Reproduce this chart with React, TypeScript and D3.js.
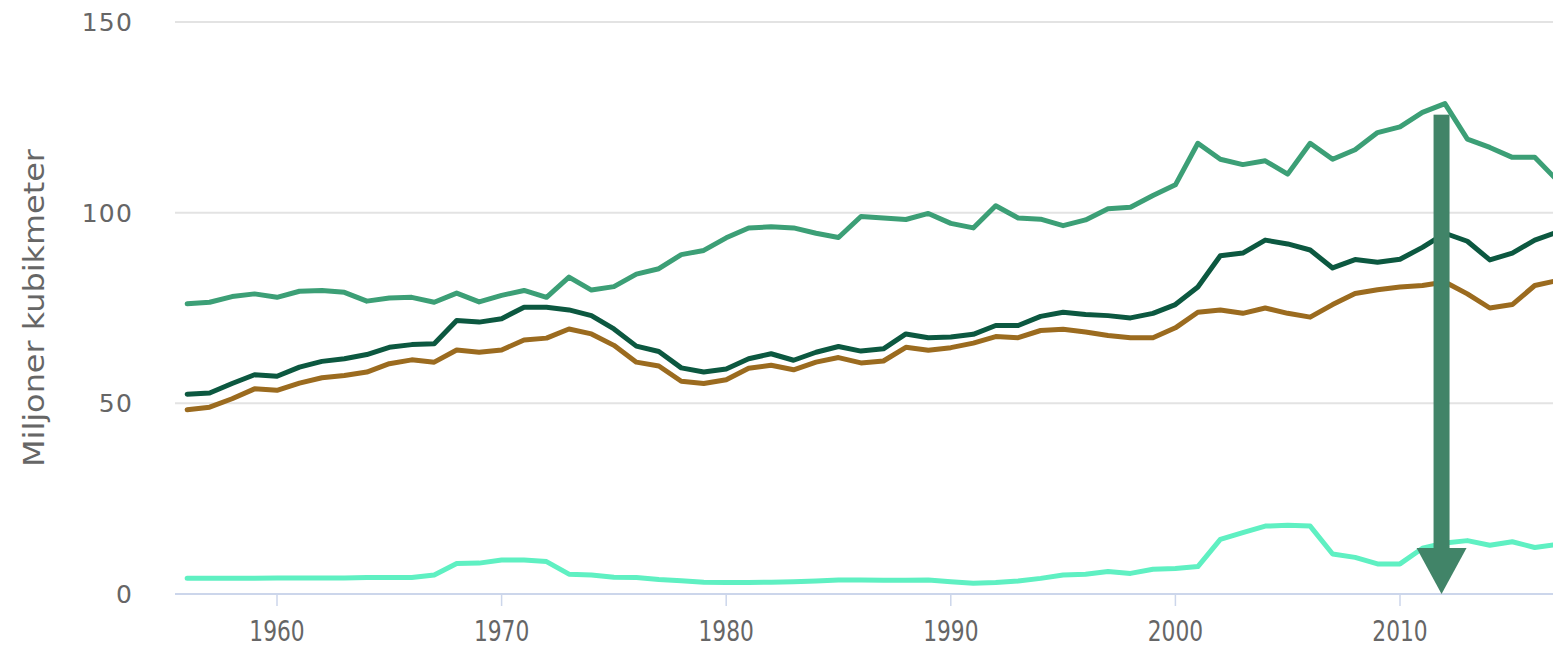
import React from "react";
import * as d3 from "d3";

const years: number[] = d3.range(1956, 2018);

// Miljoner kubikmeter
const tillvaxt: number[] = [
  76.1, 76.5, 78.0, 78.7, 77.8, 79.4, 79.6, 79.1, 76.8, 77.6,
  77.8, 76.5, 78.9, 76.6, 78.3, 79.6, 77.8, 83.1, 79.7, 80.6,
  83.9, 85.3, 89.0, 90.1, 93.4, 96.0, 96.3, 96.0, 94.6, 93.5,
  99.0, 98.6, 98.2, 99.8, 97.2, 96.0, 101.8, 98.6, 98.3, 96.6,
  98.1, 101.0, 101.4, 104.5, 107.3, 118.2, 114.0, 112.6, 113.6, 110.1,
  118.2, 114.0, 116.5, 121.0, 122.5, 126.3, 128.6, 119.3, 117.1, 114.5,
  114.5, 108.5,
];

const bruttoavverkning: number[] = [
  52.4, 52.7, 55.2, 57.5, 57.1, 59.5, 61.0, 61.7, 62.8, 64.7,
  65.4, 65.6, 71.7, 71.3, 72.2, 75.2, 75.2, 74.5, 73.0, 69.5,
  65.0, 63.6, 59.3, 58.2, 59.0, 61.7, 63.0, 61.3, 63.4, 64.9,
  63.7, 64.3, 68.2, 67.2, 67.4, 68.1, 70.4, 70.4, 72.8, 73.9,
  73.3, 73.0, 72.4, 73.6, 75.9, 80.5, 88.7, 89.4, 92.8, 91.8,
  90.2, 85.5, 87.7, 87.0, 87.8, 90.9, 94.6, 92.5, 87.6, 89.4,
  92.8, 94.9,
];

const nettoavverkning: number[] = [
  48.3, 49.0, 51.2, 53.8, 53.4, 55.3, 56.7, 57.3, 58.2, 60.4,
  61.4, 60.8, 64.0, 63.4, 64.0, 66.6, 67.1, 69.5, 68.2, 65.2,
  60.8, 59.8, 55.8, 55.2, 56.2, 59.2, 60.0, 58.8, 60.8, 62.0,
  60.6, 61.1, 64.7, 63.9, 64.6, 65.8, 67.5, 67.2, 69.1, 69.4,
  68.7, 67.8, 67.2, 67.2, 69.8, 73.9, 74.5, 73.6, 75.0, 73.6,
  72.6, 75.9, 78.8, 79.8, 80.5, 80.9, 81.8, 78.7, 75.0, 75.9,
  80.9, 82.2,
];

const avgang: number[] = [
  4.1, 4.1, 4.1, 4.1, 4.2, 4.2, 4.2, 4.2, 4.3, 4.3,
  4.3, 5.0, 8.0, 8.1, 8.9, 8.9, 8.5, 5.2, 5.0, 4.4,
  4.3, 3.8, 3.5, 3.1, 3.0, 3.0, 3.1, 3.2, 3.4, 3.7,
  3.7, 3.6, 3.6, 3.7, 3.2, 2.8, 3.0, 3.4, 4.1, 5.0,
  5.2, 5.9, 5.4, 6.5, 6.7, 7.2, 14.3, 16.1, 17.8, 18.0,
  17.8, 10.5, 9.6, 7.9, 7.9, 12.0, 13.4, 14.0, 12.8, 13.7,
  12.2, 13.0,
];

const yTicks: number[] = [0, 50, 100, 150];
const xTicks: number[] = [1960, 1970, 1980, 1990, 2000, 2010];
const yTitle = "Miljoner kubikmeter";

// Annotation arrow (year, from value, to value)
const arrowYear = 2011.85;
const arrowFrom = 125.7;
const arrowTo = 0;

const seriesList = [
  { name: "Avgång", values: avgang, color: "#5ff0c2" },
  { name: "Nettoavverkning", values: nettoavverkning, color: "#9b6b1f" },
  { name: "Bruttoavverkning", values: bruttoavverkning, color: "#0c5840" },
  { name: "Tillväxt", values: tillvaxt, color: "#3c9f76" },
];

export default function App() {
  const W = 1553;
  const H = 650;
  const plotLeft = 175;
  const x = d3.scaleLinear().domain([1960, 2010]).range([277, 1400]);
  const y = d3.scaleLinear().domain([0, 150]).range([594, 22]);

  const line = d3
    .line<[number, number]>()
    .x((d) => x(d[0]))
    .y((d) => y(d[1]));

  const ax = x(arrowYear);
  const shaftW = 16;
  const headW = 50;
  const headH = 46;
  const yTop = y(arrowFrom);
  const yTip = y(arrowTo);

  return (
    <svg
      width={W}
      height={H}
      style={{ position: "absolute", left: 0, top: 0, background: "#fff" }}
    >
      {yTicks
        .filter((t) => t > 0)
        .map((t) => (
          <line
            key={"g" + t}
            x1={plotLeft}
            x2={W}
            y1={y(t)}
            y2={y(t)}
            stroke="#e3e3e3"
            strokeWidth={2}
          />
        ))}
      <line x1={plotLeft} x2={W} y1={y(0)} y2={y(0)} stroke="#ccd6eb" strokeWidth={2} />
      {xTicks.map((t) => (
        <g key={"x" + t}>
          <line x1={x(t)} x2={x(t)} y1={y(0)} y2={y(0) + 12} stroke="#ccd6eb" strokeWidth={1.5} />
          <text
            transform={`translate(${x(t)},${y(0) + 47}) scale(0.75,1)`}
            textAnchor="middle"
            fontFamily="DejaVu Sans"
            fontSize={29}
            fill="#666"
          >
            {t}
          </text>
        </g>
      ))}
      {yTicks.map((t) => (
        <text
          key={"y" + t}
          x={133}
          y={y(t) + 9}
          textAnchor="end"
          fontFamily="DejaVu Sans"
          fontSize={25}
          letterSpacing={1.2}
          fill="#666"
        >
          {t}
        </text>
      ))}
      <text
        transform={`translate(44,${(y(0) + y(150)) / 2}) rotate(-90)`}
        textAnchor="middle"
        fontFamily="DejaVu Sans"
        fontSize={29}
        fill="#666"
        textLength={318}
        lengthAdjust="spacingAndGlyphs"
      >
        {yTitle}
      </text>
      {seriesList.map((s) => (
        <path
          key={s.name}
          d={line(years.map((yr, i) => [yr, s.values[i]] as [number, number])) || ""}
          fill="none"
          stroke={s.color}
          strokeWidth={5}
          strokeLinejoin="round"
          strokeLinecap="round"
        />
      ))}
      <rect
        x={ax - shaftW / 2}
        y={yTop}
        width={shaftW}
        height={yTip - headH - yTop + 1}
        fill="#418468"
      />
      <path
        d={`M${ax - headW / 2},${yTip - headH} L${ax + headW / 2},${yTip - headH} L${ax},${yTip} Z`}
        fill="#418468"
      />
    </svg>
  );
}
